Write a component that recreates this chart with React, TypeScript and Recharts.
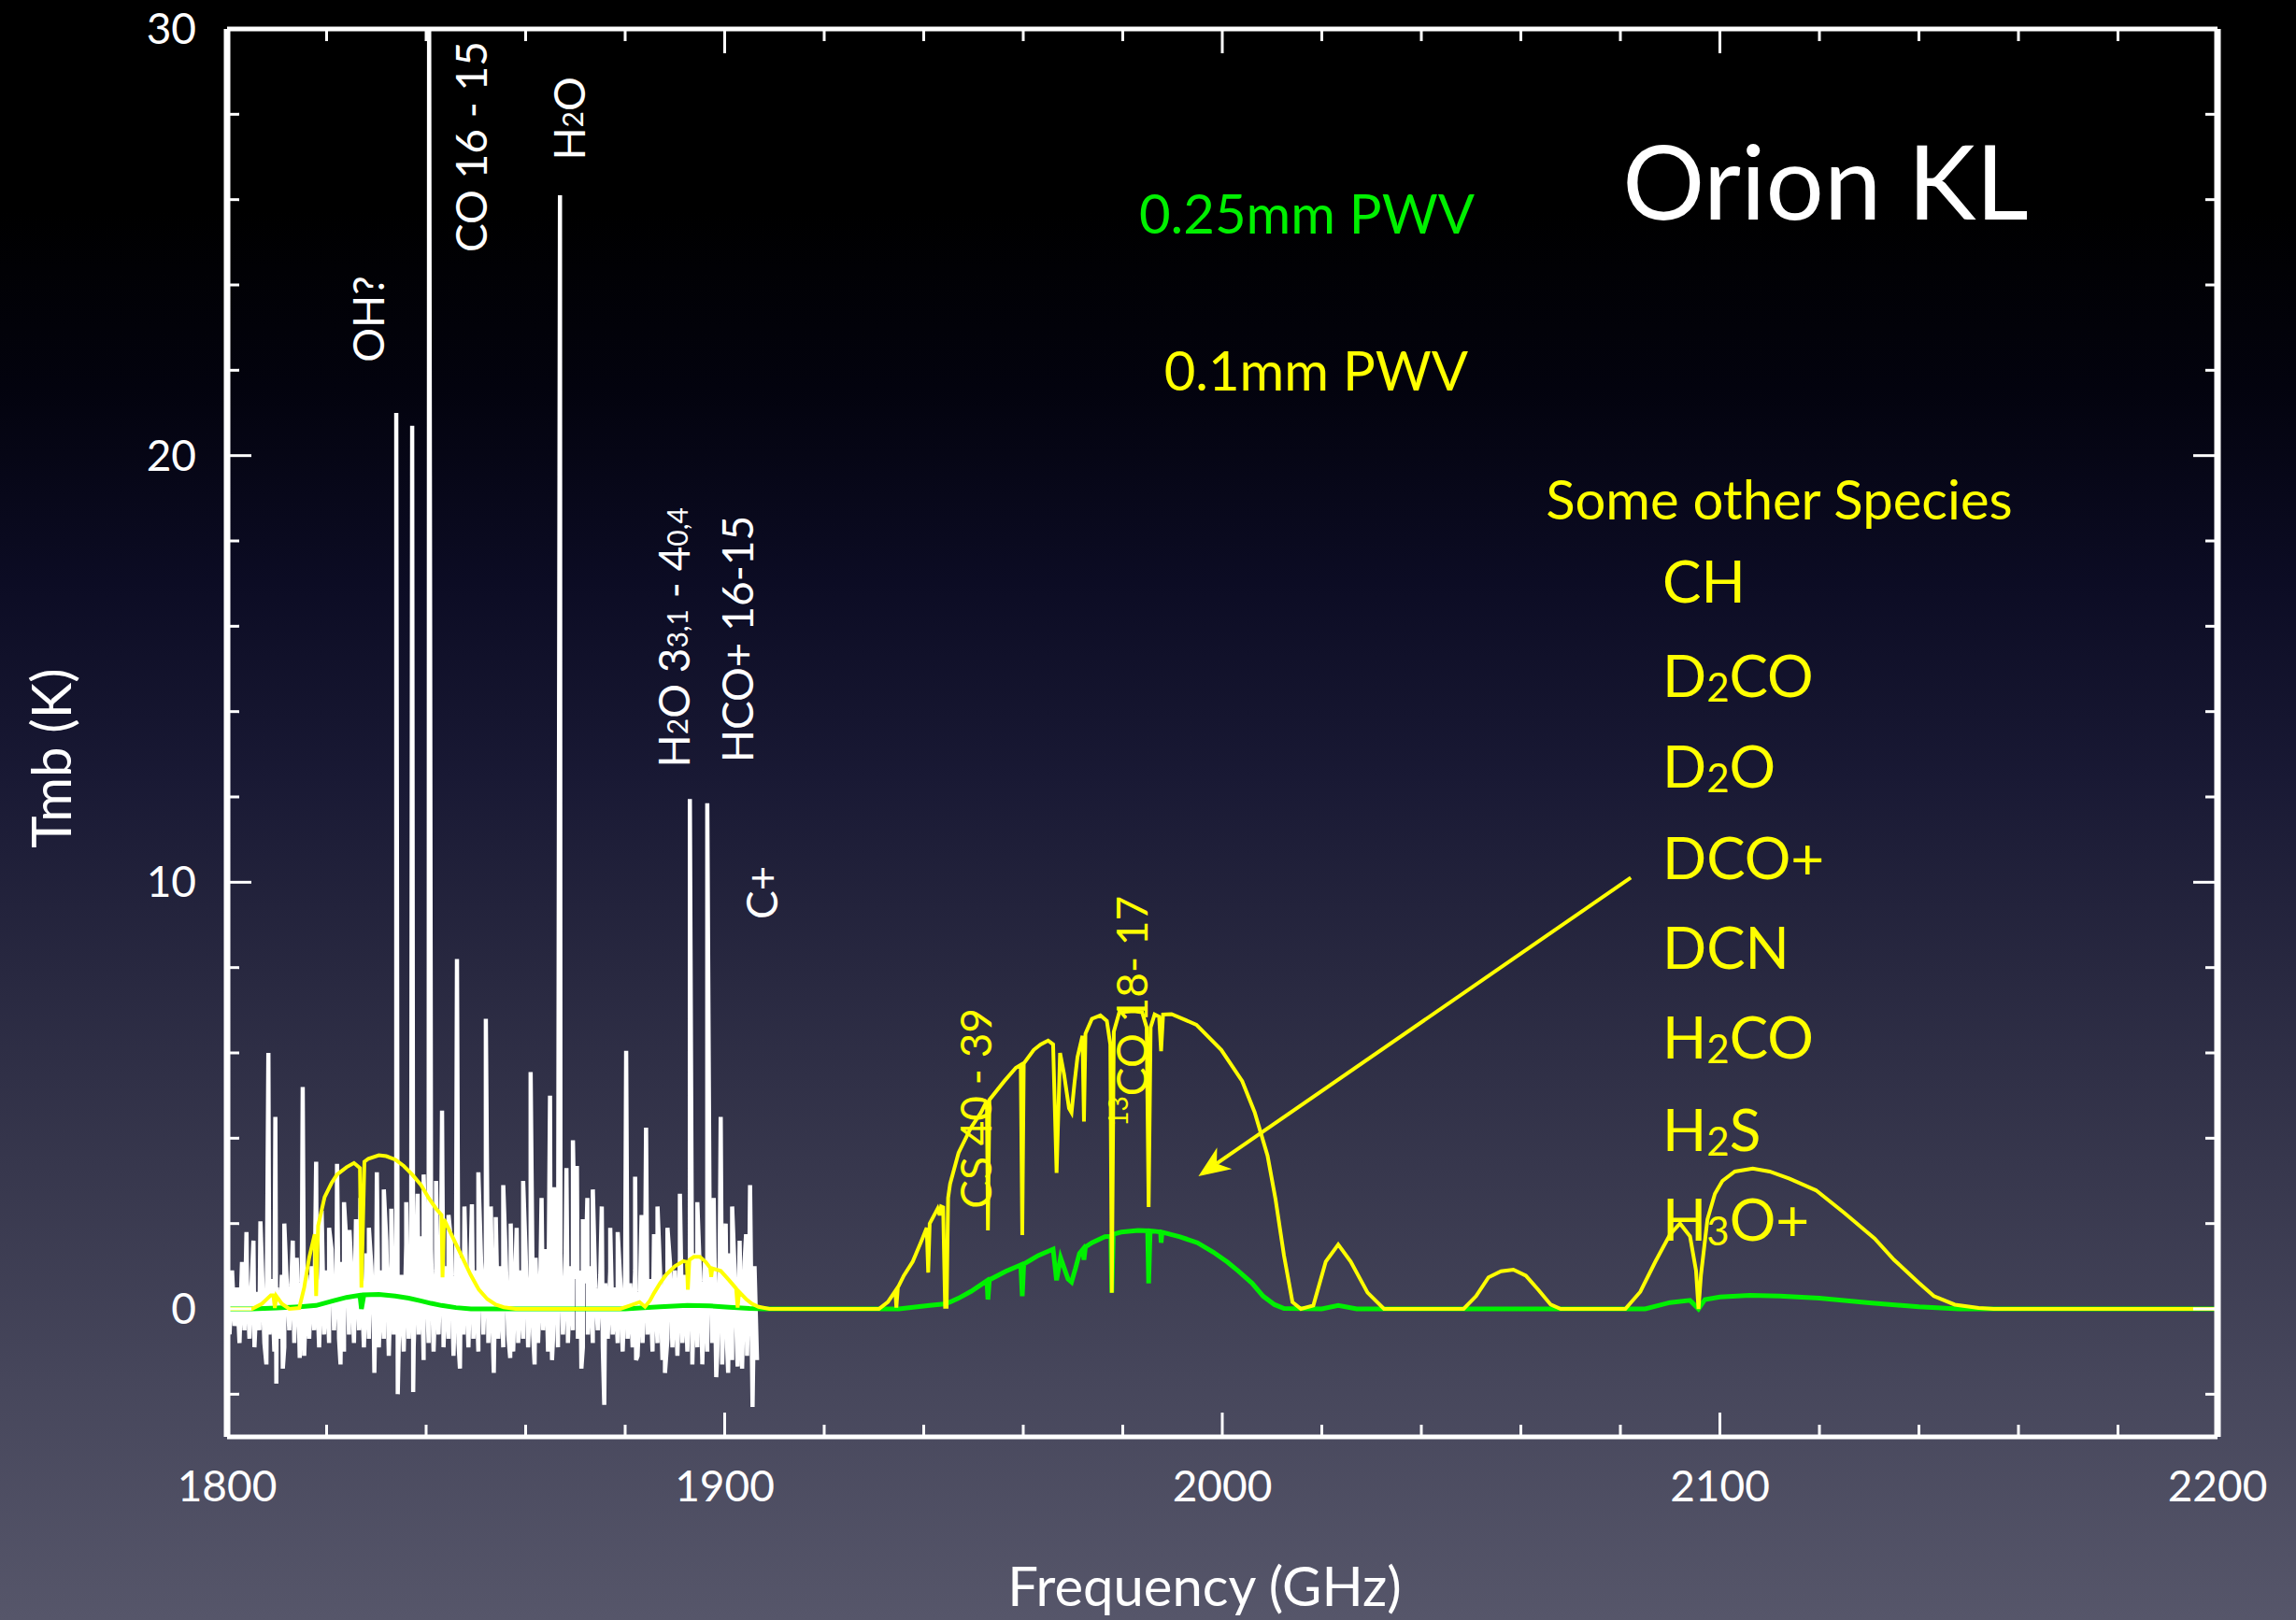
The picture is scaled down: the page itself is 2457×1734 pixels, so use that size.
import React from 'react';
import { LineChart, Line, XAxis, YAxis, ReferenceDot, ReferenceLine } from 'recharts';

const FONT = "Lato, 'Noto Sans', sans-serif";
const WHITE = '#ffffff';
const YELLOW = '#ffff00';
const GREEN = '#00f000';

// Orion KL spectrum (white): baseline noise on a 1 GHz channel grid from 1800 GHz,
// upper excursion at the channel, lower excursion half a channel later
const noiseStart = 1800;
const noiseHi = [
  0.6, 0.9, 0.5, 1.1, 0.7, 0.8, 0.4, 1.0, 0.6, 0.7,
  0.5, 0.8, 0.6, 0.9, 1.2, 0.5, 0.8, 1.0, 0.7, 1.3,
  0.9, 1.4, 0.8, 1.1, 1.5, 0.9, 1.2, 0.7, 1.3, 1.0,
  1.4, 0.9, 1.6, 1.1, 1.3, 0.8, 1.5, 1.2, 1.0, 1.7,
  1.1, 1.4, 0.9, 1.3, 1.0, 1.6, 0.8, 1.2, 1.0, 1.4,
  0.9, 1.3, 1.1, 0.8, 1.5, 1.0, 1.2, 0.7, 1.1, 0.9,
  1.3, 0.8, 1.2, 1.0, 1.4, 0.9, 1.1, 1.3, 0.8, 1.0,
  0.7, 0.9, 0.6, 1.0, 0.5, 0.8, 0.6, 0.9, 0.5, 0.7,
  0.8, 0.6, 0.9, 0.5, 1.0, 0.7, 0.6, 0.9, 0.8, 1.1,
  0.9, 1.2, 0.8, 1.0, 1.3, 0.9, 1.1, 1.4, 0.8, 1.2,
  1.0, 1.3, 0.9, 1.5, 1.1, 1.6, 1.0,
];
const noiseLo = [
  -0.6, -0.4, -0.8, -0.5, -0.7, -0.9, -0.5, -0.8, -0.6, -1.0,
  -0.7, -0.9, -0.5, -0.8, -0.6, -1.1, -0.7, -0.5, -0.9, -0.6,
  -0.8, -0.5, -0.7, -1.0, -0.6, -0.8, -0.5, -0.9, -0.7, -0.6,
  -0.9, -0.7, -1.1, -0.6, -0.8, -1.0, -0.7, -0.9, -0.6, -1.2,
  -0.8, -1.0, -0.6, -0.9, -0.7, -1.1, -0.8, -0.6, -0.9, -0.7,
  -1.0, -0.6, -0.8, -1.1, -0.7, -0.9, -0.6, -1.0, -0.8, -0.7,
  -0.9, -0.6, -0.8, -0.5, -1.0, -0.7, -0.9, -0.6, -0.8, -0.5,
  -0.7, -0.9, -0.6, -0.8, -0.5, -0.9, -0.7, -0.6, -0.8, -1.0,
  -0.7, -0.9, -1.1, -0.8, -0.6, -1.0, -0.8, -1.2, -0.7, -0.9,
  -1.1, -0.8, -1.0, -1.3, -0.9, -1.2, -1.0, -0.8, -1.1, -1.3,
  -0.9, -1.2, -1.0, -1.4, -1.1, -1.3, -1.2,
];
// [GHz, K] emission lines and deep negative channels
const lineSpikes: [number, number][] = [
  [1803.9, 1.8], [1805.3, 1.6], [1806.7, 2.05], [1807.9, -1.3], [1808.3, 6.0],
  [1809.7, 4.5], [1809.9, -1.75], [1811.2, -1.4], [1811.5, 2.0], [1813.2, 1.6],
  [1814.6, -1.15], [1815.2, 5.2], [1817.9, 3.45], [1819.0, 2.3], [1820.5, 1.9],
  [1822.1, 3.4], [1822.8, -1.3], [1823.5, 2.5], [1824.6, 1.85], [1825.9, 2.1],
  [1826.8, 2.6], [1828.5, 1.9], [1829.6, -1.5], [1830.1, 3.2], [1831.5, 2.8],
  [1833.0, 2.35], [1834.0, 21.0], [1834.3, -2.0], [1836.0, 2.5], [1837.2, 20.7],
  [1837.4, -1.95], [1838.3, 2.7], [1839.5, 3.15], [1840.6, 31], [1842.0, 3.0],
  [1843.2, 4.65], [1844.5, 2.2], [1846.2, 8.2], [1846.8, -1.4], [1847.7, 2.4],
  [1849.2, 2.45], [1850.5, 3.2], [1852.0, 6.8], [1853.0, 2.4], [1853.6, -1.5],
  [1854.0, 2.15], [1855.5, 2.9], [1856.9, -1.15], [1857.0, 2.0], [1858.2, 1.9],
  [1859.5, 3.0], [1861.0, 5.55], [1861.8, -1.3], [1863.2, 2.6], [1864.9, 5.0],
  [1865.3, -1.2], [1865.7, 2.85], [1866.9, 26.1], [1868.2, 3.3], [1869.5, 3.95],
  [1870.3, 3.35], [1871.2, -1.4], [1871.5, 2.1], [1872.4, 2.6], [1873.5, 2.8],
  [1875.3, 2.4], [1875.8, -2.25], [1877.0, 1.9], [1878.5, 1.8], [1880.2, 6.05],
  [1882.0, 3.1], [1882.2, -1.2], [1883.3, 2.2], [1884.2, 4.25], [1885.8, 1.75],
  [1886.5, 2.4], [1888.0, -1.5], [1888.5, 1.9], [1891.0, 2.7], [1893.0, 11.95],
  [1894.5, 2.5], [1895.5, -1.3], [1896.5, 11.85], [1897.8, 2.6], [1898.3, -1.6],
  [1899.2, 4.5], [1900.2, 2.0], [1900.7, -1.5], [1901.5, 2.4], [1902.6, -1.35],
  [1903.0, 1.6], [1904.3, 1.75], [1905.1, 2.9], [1905.6, -2.3],
];

// atmospheric transmission (scaled), 0.1 mm PWV
const pwv010: [number, number][] = [
  [1800, 0], [1805, 0], [1807, 0.12], [1808.8, 0.32], [1809.3, 0.32], [1809.6, 0.02],
  [1809.9, 0.3], [1811, 0.12], [1812.5, 0], [1814.5, 0.02], [1815.5, 0.5], [1816.5, 1.2],
  [1817.6, 1.75], [1817.9, 0.3], [1818.3, 1.95], [1819.6, 2.62], [1821, 2.95], [1822.1, 3.15],
  [1824, 3.32], [1825.5, 3.42], [1826.7, 3.3], [1827.0, 0.5], [1827.6, 3.45], [1828.4, 3.52],
  [1830.5, 3.6], [1832, 3.58], [1833.8, 3.5], [1835.5, 3.35], [1837.2, 3.15], [1839, 2.9],
  [1840.5, 2.6], [1842, 2.35], [1843.1, 2.2], [1843.3, 0.74], [1843.6, 2.1], [1845.6, 1.62],
  [1847.3, 1.2], [1848.9, 0.81], [1850.6, 0.45], [1852.3, 0.23], [1854, 0.1], [1855.6, 0.04],
  [1858, 0], [1879, 0], [1881, 0.08], [1882.9, 0.16], [1884.0, 0.05], [1885, 0.2],
  [1885.8, 0.37], [1887, 0.6], [1888.3, 0.81], [1890, 1.0], [1891.7, 1.12], [1892.4, 1.1],
  [1892.6, 0.45], [1892.9, 1.15], [1893.8, 1.22], [1895, 1.22], [1896.2, 1.1], [1897.1, 0.96],
  [1897.3, 0.75], [1897.5, 0.95], [1899.2, 0.89], [1900.9, 0.67], [1902.3, 0.48], [1902.6, 0.03],
  [1902.9, 0.4], [1904.3, 0.23], [1905.5, 0.12], [1906.8, 0.05], [1909, 0], [1931, 0],
  [1932.8, 0.16], [1934.3, 0.42], [1934.5, 0.03], [1934.8, 0.5], [1936, 0.78], [1937.8, 1.11],
  [1939.5, 1.58], [1940.6, 1.9], [1940.9, 0.85], [1941.2, 2.0], [1942.8, 2.35], [1943.2, 2.2],
  [1943.5, 2.4], [1943.9, 2.38], [1944.3, 0.05], [1944.6, 0.05], [1944.9, 2.6], [1945.3, 2.93],
  [1947.0, 3.66], [1949.5, 4.25], [1951.5, 4.6], [1952.7, 4.88], [1952.9, 1.84], [1953.2, 4.9],
  [1956.2, 5.34], [1958.5, 5.65], [1959.5, 5.72], [1959.8, 1.73], [1960.1, 5.75], [1962.1, 6.07],
  [1963.5, 6.2], [1965.0, 6.29], [1966.0, 6.2], [1966.7, 3.19], [1967.4, 6.0], [1968.2, 5.5],
  [1969.2, 4.7], [1969.7, 4.6], [1970.3, 5.3], [1970.9, 5.9], [1971.9, 6.4], [1972.2, 4.39],
  [1972.5, 6.45], [1973.8, 6.8], [1975.5, 6.88], [1976.8, 6.75], [1977.5, 6.2], [1977.8, 0.38],
  [1978.2, 6.5], [1979.3, 6.95], [1982.2, 6.98], [1983.9, 6.95], [1984.8, 6.6], [1985.2, 2.39],
  [1985.6, 6.6], [1986.4, 6.9], [1987.3, 6.85], [1987.7, 6.04], [1988.1, 6.9], [1989.8, 6.91],
  [1994.8, 6.66], [1999.8, 6.07], [2004.0, 5.34], [2006.5, 4.61], [2009.1, 3.59], [2010.7, 2.57],
  [2012.4, 1.25], [2014.1, 0.16], [2015.8, 0], [2018.3, 0.08], [2020.8, 1.11], [2023.3, 1.51],
  [2025.8, 1.11], [2029.2, 0.38], [2032.5, 0], [2048.5, 0], [2051, 0.3], [2053.5, 0.74],
  [2056, 0.88], [2058.5, 0.92], [2061, 0.78], [2063.5, 0.45], [2066, 0.1], [2068, 0],
  [2081, 0], [2084, 0.4], [2087, 1.1], [2090, 1.75], [2092, 2.0], [2094, 1.7],
  [2095.2, 0.9], [2095.7, 0], [2096.2, 0.8], [2097.5, 2.1], [2099, 2.7], [2100.5, 3.0],
  [2103, 3.22], [2106.6, 3.29], [2110, 3.22], [2114, 3.05], [2119.3, 2.78], [2125, 2.25],
  [2131.1, 1.65], [2135, 1.15], [2139.9, 0.62], [2143, 0.3], [2147.2, 0.1], [2152, 0.02],
  [2155, 0], [2200, 0],
];

// atmospheric transmission (scaled), 0.25 mm PWV
const pwv025: [number, number][] = [
  [1800, 0], [1805, 0], [1810, 0.02], [1814.6, 0.05], [1817.9, 0.08], [1821.3, 0.19],
  [1824, 0.27], [1826.7, 0.32], [1827.0, 0], [1827.5, 0.33], [1830.5, 0.34], [1833.8, 0.3],
  [1836.5, 0.25], [1838.9, 0.19], [1841, 0.13], [1843.1, 0.08], [1846, 0.03], [1849, 0],
  [1880, 0], [1883, 0.02], [1887, 0.05], [1892.5, 0.08], [1897, 0.07], [1900.9, 0.04],
  [1905, 0.01], [1908, 0], [1935, 0], [1941.2, 0.08], [1944.5, 0.12], [1947, 0.25],
  [1949.5, 0.41], [1952.7, 0.66], [1952.9, 0.22], [1953.2, 0.68], [1956.5, 0.88], [1959.5, 1.03],
  [1959.8, 0.3], [1960.1, 1.05], [1963, 1.25], [1966.0, 1.4], [1966.7, 0.67], [1967.5, 1.2],
  [1969.0, 0.7], [1969.7, 0.63], [1970.5, 0.95], [1971.3, 1.3], [1972.0, 1.4], [1972.2, 1.15],
  [1972.5, 1.45], [1973.8, 1.55], [1976.4, 1.69], [1977.6, 1.7], [1977.8, 0.38], [1978.1, 1.75],
  [1979.7, 1.8], [1983.1, 1.84], [1985.0, 1.83], [1985.2, 0.6], [1985.5, 1.83], [1986.4, 1.82],
  [1987.6, 1.8], [1987.7, 1.55], [1987.9, 1.8], [1991.5, 1.69], [1995, 1.55], [1998.2, 1.33],
  [2001, 1.1], [2003.2, 0.89], [2006, 0.6], [2008.2, 0.3], [2010.5, 0.1], [2012.4, 0.01],
  [2020, 0], [2023.3, 0.08], [2027, 0], [2085, 0], [2090, 0.15], [2094, 0.2],
  [2095.7, 0], [2097, 0.22], [2100, 0.28], [2106, 0.32], [2112, 0.3], [2120, 0.25],
  [2130, 0.14], [2140, 0.05], [2148, 0], [2200, 0],
];

const xTicks = [1800, 1820, 1840, 1860, 1880, 1900, 1920, 1940, 1960, 1980, 2000,
  2020, 2040, 2060, 2080, 2100, 2120, 2140, 2160, 2180, 2200];
const yTicks = [-2, 0, 2, 4, 6, 8, 10, 12, 14, 16, 18, 20, 22, 24, 26, 28, 30];
const xLabelled = [1800, 1900, 2000, 2100, 2200];
const yLabelled = [0, 10, 20, 30];

const spectrum = [
  ...noiseHi.map((t, i) => ({ f: noiseStart + i, t })),
  ...noiseLo.map((t, i) => ({ f: noiseStart + i + 0.5, t })),
  ...lineSpikes.map(([f, t]) => ({ f, t })),
].sort((a, b) => a.f - b.f);
const thin = pwv010.map(([f, t]) => ({ f, t }));
const thick = pwv025.map(([f, t]) => ({ f, t }));

const TICK_FONT = 46;

function BottomTick(props: any) {
  const { x, y, payload } = props;
  const major = xLabelled.includes(payload.value);
  return (
    <g>
      <line x1={x} x2={x} y1={y} y2={y - (major ? 26 : 13)} stroke={WHITE} strokeWidth={3} />
      {major && (
        <text x={x} y={y + 69} textAnchor="middle" fill={WHITE} fontSize={TICK_FONT} fontFamily={FONT}>
          {payload.value}
        </text>
      )}
    </g>
  );
}

function TopTick(props: any) {
  const { x, y, payload } = props;
  const major = xLabelled.includes(payload.value);
  return <line x1={x} x2={x} y1={y} y2={y + (major ? 26 : 13)} stroke={WHITE} strokeWidth={3} />;
}

function LeftTick(props: any) {
  const { x, y, payload } = props;
  const major = yLabelled.includes(payload.value);
  return (
    <g>
      <line x1={x} x2={x + (major ? 26 : 13)} y1={y} y2={y} stroke={WHITE} strokeWidth={3} />
      {major && (
        <text x={x - 33} y={y + 16} textAnchor="end" fill={WHITE} fontSize={TICK_FONT} fontFamily={FONT}>
          {payload.value}
        </text>
      )}
    </g>
  );
}

function RightTick(props: any) {
  const { x, y, payload } = props;
  const major = yLabelled.includes(payload.value);
  return <line x1={x} x2={x - (major ? 26 : 13)} y1={y} y2={y} stroke={WHITE} strokeWidth={3} />;
}

function Arrow(p: any) {
  const { x1, y1, x2, y2 } = p;
  const a = Math.atan2(y2 - y1, x2 - x1);
  const len = 34;
  const half = 14;
  const bx = x2 - len * Math.cos(a);
  const by = y2 - len * Math.sin(a);
  const px = -Math.sin(a) * half;
  const py = Math.cos(a) * half;
  const nx = x2 - len * 0.7 * Math.cos(a);
  const ny = y2 - len * 0.7 * Math.sin(a);
  return (
    <g>
      <line x1={x1} y1={y1} x2={nx} y2={ny} stroke={YELLOW} strokeWidth={4} />
      <polygon points={`${x2},${y2} ${bx + px},${by + py} ${nx},${ny} ${bx - px},${by - py}`} fill={YELLOW} />
    </g>
  );
}

type NoteOpts = { color: string; size: number; rotate?: boolean; anchor?: 'start' | 'middle' | 'end' };

const note = (content: React.ReactNode, o: NoteOpts) => (p: any) => (
  <text
    x={p.cx}
    y={p.cy}
    fill={o.color}
    fontSize={o.size}
    fontFamily={FONT}
    textAnchor={o.anchor ?? 'middle'}
    dominantBaseline={o.rotate ? 'central' : 'alphabetic'}
    transform={o.rotate ? `rotate(-90 ${p.cx} ${p.cy})` : undefined}
  >
    {content}
  </text>
);

function Species({ base, low, rest }: { base: string; low?: string; rest?: string }) {
  return (
    <>
      <tspan>{base}</tspan>
      {low && <tspan fontSize={42} dy={5}>{low}</tspan>}
      {rest && <tspan dy={low ? -5 : 0}>{rest}</tspan>}
    </>
  );
}

const rotNotes: { f: number; t: number; color: string; content: React.ReactNode }[] = [
  { f: 1828.3, t: 23.2, color: WHITE, content: 'OH?' },
  { f: 1849.0, t: 27.24, color: WHITE, content: 'CO 16 - 15' },
  {
    f: 1868.5, t: 27.9, color: WHITE,
    content: <><tspan>H</tspan><tspan fontSize={30} dy={4}>2</tspan><tspan dy={-4}>O</tspan></>,
  },
  {
    f: 1889.6, t: 15.74, color: WHITE,
    content: (
      <>
        <tspan>H</tspan><tspan fontSize={30} dy={4}>2</tspan><tspan dy={-4}>O 3</tspan>
        <tspan fontSize={30} dy={4}>3,1</tspan><tspan dy={-4}> - 4</tspan>
        <tspan fontSize={30} dy={4}>0,4</tspan>
      </>
    ),
  },
  { f: 1902.5, t: 15.7, color: WHITE, content: 'HCO+ 16-15' },
  { f: 1907.4, t: 9.76, color: WHITE, content: 'C+' },
  { f: 1950.4, t: 4.7, color: YELLOW, content: 'CS 40 - 39' },
  {
    f: 1981.6, t: 6.98, color: YELLOW,
    content: <><tspan fontSize={28} dy={-14}>13</tspan><tspan dy={14}>CO 18- 17</tspan></>,
  },
];

const speciesRows: { t: number; base: string; low?: string; rest?: string }[] = [
  { t: 16.55, base: 'CH' },
  { t: 14.34, base: 'D', low: '2', rest: 'CO' },
  { t: 12.21, base: 'D', low: '2', rest: 'O' },
  { t: 10.07, base: 'DCO+' },
  { t: 7.98, base: 'DCN' },
  { t: 5.86, base: 'H', low: '2', rest: 'CO' },
  { t: 3.71, base: 'H', low: '2', rest: 'S' },
  { t: 1.59, base: 'H', low: '3', rest: 'O+' },
];

export default function App() {
  return (
    <div
      style={{
        position: 'absolute',
        top: 0,
        left: 0,
        width: 2457,
        height: 1734,
        background:
          'linear-gradient(to bottom, #000000 0%, #000000 13%, #03030e 24%, #0c0c24 36%, #191934 48%, #282840 60%, #37374d 72%, #46465b 85%, #56566a 100%)',
      }}
    >
      <LineChart width={2457} height={1734} margin={{ top: 0, right: 0, bottom: 0, left: 0 }}>
        <XAxis
          xAxisId={0}
          type="number"
          dataKey="f"
          domain={[1800, 2200]}
          allowDataOverflow
          ticks={xTicks}
          interval={0}
          height={196}
          tickSize={0}
          tickMargin={0}
          tick={<BottomTick />}
          axisLine={{ stroke: WHITE, strokeWidth: 5 }}
          tickLine={false}
          label={{
            content: (p: any) => (
              <text
                x={p.viewBox.x + p.viewBox.width / 2 - 19}
                y={p.viewBox.y + 181}
                textAnchor="middle"
                fill={WHITE}
                fontSize={58}
                fontFamily={FONT}
              >
                Frequency (GHz)
              </text>
            ),
          }}
        />
        <XAxis
          xAxisId="top"
          orientation="top"
          type="number"
          dataKey="f"
          domain={[1800, 2200]}
          allowDataOverflow
          ticks={xTicks}
          interval={0}
          height={31}
          tickSize={0}
          tickMargin={0}
          tick={<TopTick />}
          axisLine={{ stroke: WHITE, strokeWidth: 5 }}
          tickLine={false}
        />
        <YAxis
          yAxisId={0}
          type="number"
          domain={[-3, 30]}
          allowDataOverflow
          ticks={yTicks}
          interval={0}
          width={243}
          tickSize={0}
          tickMargin={0}
          tick={<LeftTick />}
          axisLine={{ stroke: WHITE, strokeWidth: 7 }}
          tickLine={false}
          label={{
            content: (p: any) => {
              const cx = p.viewBox.x + 53;
              const cy = p.viewBox.y + p.viewBox.height / 2 + 27;
              return (
                <text
                  x={cx}
                  y={cy}
                  transform={`rotate(-90 ${cx} ${cy})`}
                  textAnchor="middle"
                  dominantBaseline="central"
                  fill={WHITE}
                  fontSize={58}
                  fontFamily={FONT}
                >
                  Tmb (K)
                </text>
              );
            },
          }}
        />
        <YAxis
          yAxisId="right"
          orientation="right"
          type="number"
          domain={[-3, 30]}
          allowDataOverflow
          ticks={yTicks}
          interval={0}
          width={84}
          tickSize={0}
          tickMargin={0}
          tick={<RightTick />}
          axisLine={{ stroke: WHITE, strokeWidth: 7 }}
          tickLine={false}
        />

        <Line data={spectrum} dataKey="t" type="linear" stroke={WHITE} strokeWidth={4.5} dot={false} isAnimationActive={false} />
        <Line data={thick} dataKey="t" type="linear" stroke={GREEN} strokeWidth={5} dot={false} isAnimationActive={false} />
        <Line data={thin} dataKey="t" type="linear" stroke={YELLOW} strokeWidth={4} dot={false} isAnimationActive={false} />

        {rotNotes.map((n, i) => (
          <ReferenceDot
            key={`rn${i}`}
            x={n.f}
            y={n.t}
            r={0}
            ifOverflow="visible"
            shape={note(n.content, { color: n.color, size: 46, rotate: true })}
          />
        ))}

        <ReferenceLine
          segment={[{ x: 2082.1, y: 10.11 }, { x: 1995.2, y: 3.11 }]}
          ifOverflow="visible"
          shape={<Arrow />}
        />

        <ReferenceDot x={2050.7} y={25.2} r={0} ifOverflow="visible"
          shape={note('0.25mm PWV', { color: GREEN, size: 58, anchor: 'end' })} />
        <ReferenceDot x={2049.4} y={21.52} r={0} ifOverflow="visible"
          shape={note('0.1mm PWV', { color: YELLOW, size: 58, anchor: 'end' })} />
        <ReferenceDot x={2080.4} y={25.53} r={0} ifOverflow="visible"
          shape={note('Orion KL', { color: WHITE, size: 110, anchor: 'start' })} />
        <ReferenceDot x={2065.0} y={18.5} r={0} ifOverflow="visible"
          shape={note('Some other Species', { color: YELLOW, size: 58, anchor: 'start' })} />
        {speciesRows.map((s, i) => (
          <ReferenceDot
            key={`sp${i}`}
            x={2088.45}
            y={s.t}
            r={0}
            ifOverflow="visible"
            shape={note(<Species base={s.base} low={s.low} rest={s.rest} />, { color: YELLOW, size: 62, anchor: 'start' })}
          />
        ))}
      </LineChart>
    </div>
  );
}
